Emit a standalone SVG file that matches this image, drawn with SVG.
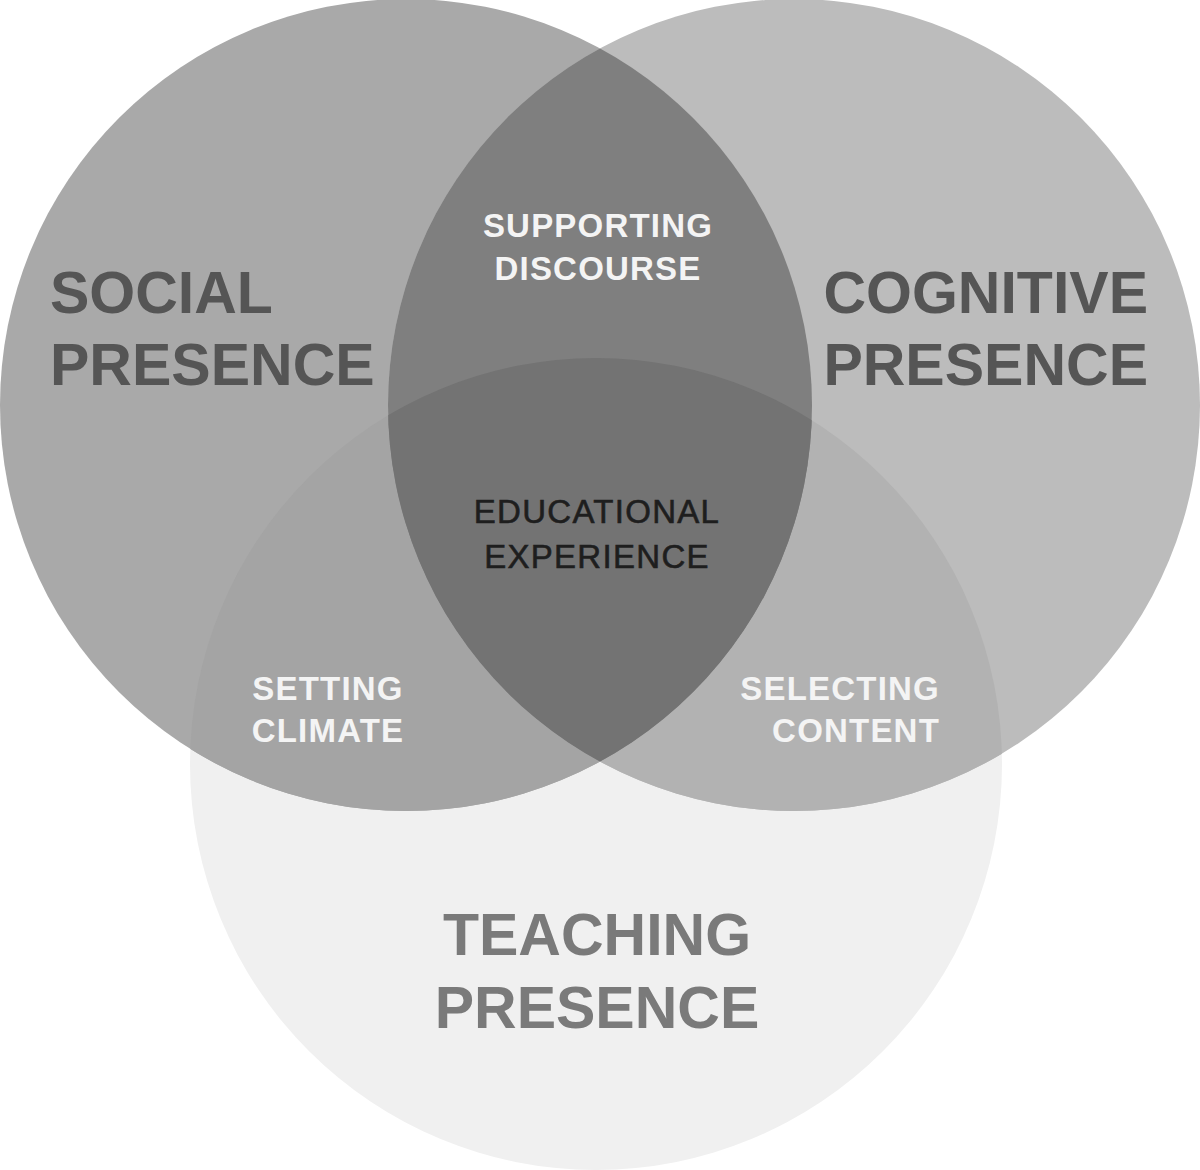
<svg xmlns="http://www.w3.org/2000/svg" width="1200" height="1170" viewBox="0 0 1200 1170">
<style>
.t{font-family:"Liberation Sans",Arial,sans-serif;font-weight:bold}
.big{font-size:59px;fill:#555555}
.teach{font-size:59px;fill:#7a7a7a}
.sub{font-size:33px;fill:#f4f4f4;letter-spacing:1.2px}
.core{font-family:"Liberation Sans",Arial,sans-serif;font-size:33px;fill:#1e1e1e;stroke:#1e1e1e;stroke-width:0.6px;letter-spacing:1.3px}
</style>
<defs>
<clipPath id="cS"><circle cx="406" cy="405" r="406"/></clipPath>
<clipPath id="cC"><circle cx="794" cy="405" r="406"/></clipPath>
<clipPath id="cT"><circle cx="596" cy="764" r="406"/></clipPath>
</defs>
<rect width="1200" height="1170" fill="#ffffff"/>
<g id="teaching-presence">
<circle cx="596" cy="764" r="406" fill="#f0f0f0"/>
</g>
<g id="social-presence">
<circle cx="406" cy="405" r="406" fill="#a9a9a9"/>
</g>
<g id="cognitive-presence">
<circle cx="794" cy="405" r="406" fill="#bcbcbc"/>
</g>
<g id="overlaps">
<g clip-path="url(#cT)"><circle cx="406" cy="405" r="406" fill="#a4a4a4"/></g>
<g clip-path="url(#cT)"><circle cx="794" cy="405" r="406" fill="#b2b2b2"/></g>
<g clip-path="url(#cS)"><circle cx="794" cy="405" r="406" fill="#7f7f7f"/></g>
<g clip-path="url(#cS)"><g clip-path="url(#cC)"><circle cx="596" cy="764" r="406" fill="#737373"/></g></g>
</g>
<g id="labels">
<text class="t big" x="50" y="313">SOCIAL</text>
<text class="t big" x="50" y="385">PRESENCE</text>
<text class="t big" x="1148" y="313" text-anchor="end">COGNITIVE</text>
<text class="t big" x="1148" y="385" text-anchor="end">PRESENCE</text>
<text class="t teach" x="597" y="955" text-anchor="middle">TEACHING</text>
<text class="t teach" x="597" y="1028" text-anchor="middle">PRESENCE</text>
<text class="t sub" x="598" y="237" text-anchor="middle">SUPPORTING</text>
<text class="t sub" x="598" y="280" text-anchor="middle">DISCOURSE</text>
<text class="core" x="597" y="523" text-anchor="middle">EDUCATIONAL</text>
<text class="core" x="597" y="568" text-anchor="middle">EXPERIENCE</text>
<text class="t sub" x="328" y="700" text-anchor="middle">SETTING</text>
<text class="t sub" x="328" y="742" text-anchor="middle">CLIMATE</text>
<text class="t sub" x="940" y="700" text-anchor="end">SELECTING</text>
<text class="t sub" x="940" y="742" text-anchor="end">CONTENT</text>
</g>
</svg>
